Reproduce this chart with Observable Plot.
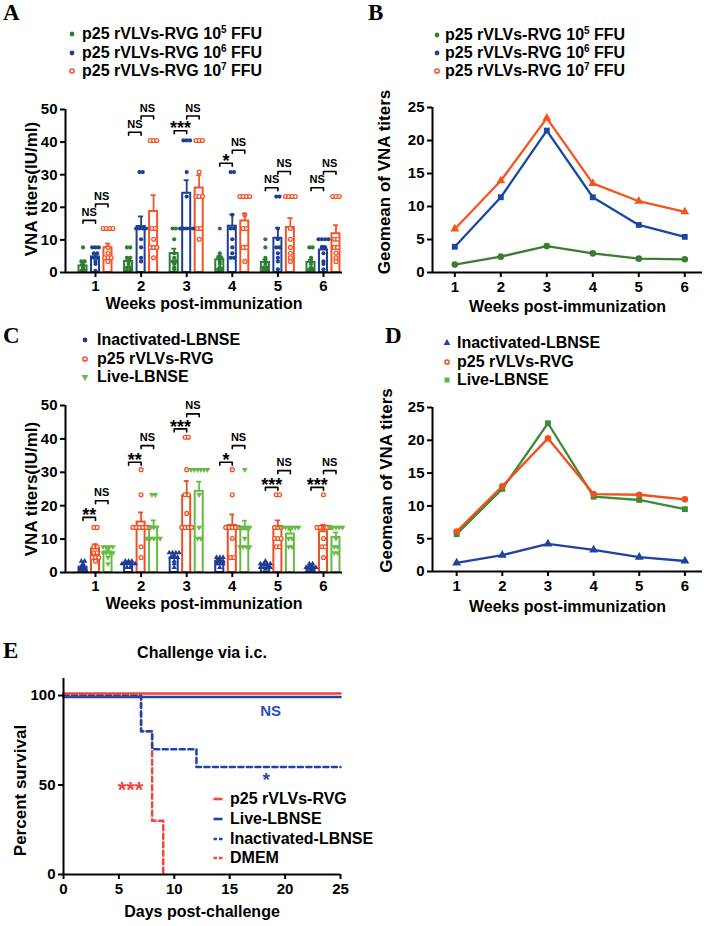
<!DOCTYPE html>
<html>
<head>
<meta charset="utf-8">
<title>VNA titers and survival</title>
<script src="https://cdn.jsdelivr.net/npm/d3@7"></script>
<script src="https://cdn.jsdelivr.net/npm/@observablehq/plot@0.6"></script>
<style>
html,body{margin:0;padding:0;background:#fff;}
#fig{position:relative;width:714px;height:926px;overflow:hidden;background:#fff;font-family:"Liberation Sans",Arial,Helvetica,sans-serif;font-weight:bold;color:#000;}
.letter{position:absolute;font-family:"Liberation Serif","Times New Roman",serif;font-weight:bold;font-size:23px;line-height:23px;}
.leg{position:absolute;font-size:16px;line-height:18px;height:18px;white-space:nowrap;}
.leg sup{font-size:10px;line-height:0;vertical-align:6px;}
.ttl{position:absolute;font-size:16px;line-height:18px;text-align:center;white-space:nowrap;}
</style>
</head>
<body>
<div id="fig"></div>
<script>
// ================= DATA =================
const weeks = [1, 2, 3, 4, 5, 6];

// ---- Panel A: VNA titers by dose ----
const seriesA = ["p25 rVLVs-RVG 10^5 FFU", "p25 rVLVs-RVG 10^6 FFU", "p25 rVLVs-RVG 10^7 FFU"];
const colorsA = ["#2f7d32", "#1d3f96", "#f2552a"];
const meanA5 = [2.0, 3.4, 5.8, 3.9, 3.1, 3.1];
const meanA6 = [4.8, 14.1, 24.3, 14.2, 10.5, 6.9];
const meanA7 = [7.6, 18.7, 25.9, 15.8, 13.8, 11.9];
const semA5 = [0.5, 0.9, 1.5, 1.2, 0.9, 0.8];
const semA6 = [0.8, 3.1, 4.0, 3.6, 3.2, 1.2];
const semA7 = [1.3, 5.0, 3.9, 2.3, 2.9, 2.6];
const dotsA5 = [
  [7.7, 3.4, 3.4, 2.3, 1.5, 1.2, 0.9, 0.6, 0.5, 0.5],
  [7.7, 7.7, 4.5, 4.5, 3.4, 2.6, 1.5, 1.5, 0.5, 0.5],
  [13.5, 13.5, 10.2, 5.9, 4.5, 3.4, 3.4, 2.6, 1.5, 1.0],
  [13.5, 5.9, 4.5, 4.5, 3.4, 2.6, 1.5, 1.0, 1.0, 0.5],
  [10.2, 7.7, 4.5, 3.4, 2.6, 1.5, 1.5, 1.0, 0.5, 0.5],
  [7.7, 7.7, 4.5, 3.4, 2.6, 1.5, 1.0, 1.0, 0.5, 0.5]
];
const dotsA6 = [
  [7.7, 7.7, 7.7, 5.9, 5.9, 4.5, 4.5, 3.4, 2.6, 0.5],
  [30.8, 30.8, 13.5, 13.5, 13.5, 13.5, 10.2, 7.7, 4.5, 3.4],
  [40.5, 40.5, 40.5, 30.8, 23.3, 13.5, 13.5, 13.5, 13.5, 13.5],
  [30.8, 30.8, 17.7, 13.5, 13.5, 10.2, 7.7, 5.9, 4.5, 4.5],
  [23.3, 23.3, 13.5, 10.2, 7.7, 7.7, 5.9, 4.5, 3.4, 1.0],
  [10.2, 10.2, 10.2, 10.2, 7.7, 7.7, 5.9, 3.4, 2.6, 1.0]
];
const dotsA7 = [
  [13.5, 13.5, 13.5, 13.5, 7.7, 5.9, 4.5, 4.5, 4.5, 3.4],
  [40.5, 40.5, 40.5, 13.5, 13.5, 10.2, 7.7, 7.7, 7.7, 4.5],
  [40.5, 40.5, 40.5, 30.8, 23.3, 23.3, 23.3, 13.5, 13.5, 10.2],
  [23.3, 23.3, 23.3, 23.3, 17.7, 13.5, 13.5, 7.7, 7.7, 3.4],
  [23.3, 23.3, 23.3, 23.3, 13.5, 10.2, 7.7, 5.9, 4.5, 3.4],
  [23.3, 23.3, 23.3, 10.2, 10.2, 7.7, 7.7, 5.9, 4.5, 3.4]
];
const sigA01 = ["NS", "NS", "***", "*", "NS", "NS"];
const sigA01y = [16, 43, 43.5, 33.5, 26, 26];
const sigA12 = ["NS", "NS", "NS", "NS", "NS", "NS"];
const sigA12y = [21, 48, 48, 37.5, 31, 31];

// ---- Panel B: geomean by dose ----
const seriesB = ["p25 rVLVs-RVG 10^5 FFU", "p25 rVLVs-RVG 10^6 FFU", "p25 rVLVs-RVG 10^7 FFU"];
const colorsB = ["#3a7d2e", "#1a47a0", "#f5541f"];
const gmB5 = [1.2, 2.4, 4.0, 2.9, 2.1, 2.0];
const gmB6 = [3.9, 11.4, 21.5, 11.4, 7.2, 5.4];
const gmB7 = [6.6, 13.9, 23.4, 13.5, 10.8, 9.2];

// ---- Panel C: VNA titers by vaccine ----
const seriesC = ["Inactivated-LBNSE", "p25 rVLVs-RVG", "Live-LBNSE"];
const colorsC = ["#1e3c96", "#f04f23", "#66bb44"];
const meanCI = [1.6, 2.6, 4.4, 3.3, 2.1, 1.6];
const meanCP = [7.1, 15.1, 23.0, 14.1, 13.4, 12.2];
const meanCL = [6.2, 13.6, 24.3, 12.8, 11.5, 10.5];
const semCI = [0.4, 0.3, 0.8, 0.5, 0.4, 0.3];
const semCP = [1.4, 2.9, 4.4, 3.3, 2.2, 2.1];
const semCL = [0.9, 2.0, 2.9, 2.7, 1.4, 1.5];
const dotsCI = [
  [3.4, 3.4, 2.6, 1.5, 1.5, 1.0, 1.0, 0.5, 0.5, 0.5],
  [3.4, 3.4, 3.4, 2.6, 2.6, 2.6, 2.6, 2.6, 1.5, 1.5],
  [5.9, 5.9, 5.9, 5.9, 4.5, 4.5, 4.5, 3.4, 2.6, 1.5],
  [4.5, 4.5, 4.5, 3.4, 3.4, 3.4, 2.6, 2.6, 2.6, 1.5],
  [3.4, 2.6, 2.6, 2.6, 2.6, 1.5, 1.5, 1.5, 1.5, 1.0],
  [2.6, 2.6, 2.0, 1.5, 1.5, 1.5, 1.5, 1.0, 1.0, 0.5]
];
const dotsCP = [
  [13.5, 13.5, 7.7, 7.7, 5.9, 5.9, 4.5, 4.5, 4.5, 3.4],
  [30.8, 23.3, 13.5, 13.5, 13.5, 13.5, 13.5, 13.5, 7.7, 4.5],
  [40.5, 40.5, 30.8, 23.3, 23.3, 17.7, 13.5, 13.5, 13.5, 13.5],
  [30.8, 23.3, 13.5, 13.5, 13.5, 13.5, 13.5, 10.2, 4.5, 4.5],
  [23.3, 23.3, 13.5, 13.5, 13.5, 10.2, 10.2, 10.2, 7.7, 7.7],
  [23.3, 13.5, 13.5, 13.5, 13.5, 13.5, 10.2, 7.7, 7.7, 4.5]
];
const dotsCL = [
  [7.7, 7.7, 7.7, 7.7, 5.9, 5.9, 5.9, 5.9, 4.5, 2.6],
  [23.3, 23.3, 13.5, 13.5, 13.5, 10.2, 10.2, 10.2, 10.2, 10.2],
  [30.8, 30.8, 30.8, 30.8, 30.8, 30.8, 23.3, 13.5, 10.2, 10.2],
  [30.8, 13.5, 13.5, 13.5, 13.5, 10.2, 7.7, 7.7, 7.7, 7.7],
  [13.5, 13.5, 13.5, 13.5, 13.5, 13.5, 10.2, 10.2, 7.7, 7.7],
  [13.5, 13.5, 13.5, 13.5, 13.5, 10.2, 7.7, 7.7, 5.9, 5.9]
];
const sigC01 = ["**", "**", "***", "*", "***", "***"];
const sigC01y = [16.5, 33, 43, 33, 25.5, 25.5];
const sigC12 = ["NS", "NS", "NS", "NS", "NS", "NS"];
const sigC12y = [21.5, 38, 47.5, 38, 30.5, 30.5];

// ---- Panel D: geomean by vaccine ----
const seriesD = ["Inactivated-LBNSE", "p25 rVLVs-RVG", "Live-LBNSE"];
const colorsD = ["#1f44a0", "#f0501e", "#3d8b35"];
const legendColorsD = ["#1f44a0", "#f0501e", "#5cb84a"];
const gmDI = [1.3, 2.5, 4.2, 3.3, 2.2, 1.6];
const gmDP = [6.1, 13.0, 20.3, 11.8, 11.7, 11.0];
const gmDL = [5.7, 12.6, 22.6, 11.4, 10.9, 9.5];

// ---- Panel E: survival after i.c. challenge ----
const seriesE = ["p25 rVLVs-RVG", "Live-LBNSE", "Inactivated-LBNSE", "DMEM"];
const colorsE = ["#f0463c", "#1c47a6", "#1c47a6", "#f0463c"];
const daysP25 = [0, 25], survP25 = [100, 100];
const daysLive = [0, 25], survLive = [100, 100];
const daysInact = [0, 7, 8, 12, 25], survInact = [100, 80, 70, 60, 60];
const daysDMEM = [0, 7, 8, 9], survDMEM = [100, 80, 30, 0];
const annotE = [
  {day: 18.7, pct: 91, label: "NS", color: "#2a4fb0", size: 15},
  {day: 18.3, pct: 53, label: "*", color: "#2a4fb0", size: 19},
  {day: 6.05, pct: 47.5, label: "***", color: "#f0463c", size: 22}
];

// ================= HELPERS =================
const fig = document.getElementById("fig");
const FONT = '"Liberation Sans", Arial, Helvetica, sans-serif';
const baseStyle = {fontFamily: FONT, fontWeight: "bold", fontSize: "15px", color: "black", background: "transparent", overflow: "visible"};

const triDown = {
  draw(ctx, size) {
    const y = -Math.sqrt(size / (Math.sqrt(3) * 3));
    ctx.moveTo(0, -2 * y);
    ctx.lineTo(Math.sqrt(3) * y, y);
    ctx.lineTo(-Math.sqrt(3) * y, y);
    ctx.closePath();
  }
};

function mount(node, left, top, width) {
  const d = document.createElement("div");
  d.style.cssText = `position:absolute;left:${left}px;top:${top}px;width:${width}px;`;
  node.style.maxWidth = "none";
  d.appendChild(node);
  fig.appendChild(d);
}

function letter(ch, left, top) {
  const d = document.createElement("div");
  d.className = "letter";
  d.style.left = left + "px";
  d.style.top = top + "px";
  d.textContent = ch;
  fig.appendChild(d);
}

function markerSvg(kind, color) {
  const s = d3.create("svg").attr("width", 16).attr("height", 16).attr("viewBox", "-8 -8 16 16");
  if (kind === "dot") s.append("circle").attr("r", 2.4).attr("fill", color);
  else if (kind === "ring") s.append("circle").attr("r", 2.1).attr("fill", "#fff").attr("stroke", color).attr("stroke-width", 1.5);
  else if (kind === "tri") s.append("path").attr("d", d3.symbol(d3.symbolTriangle, 20)()).attr("fill", color);
  else if (kind === "tridown") s.append("path").attr("d", d3.symbol(triDown, 20)()).attr("fill", color);
  else if (kind === "sq") s.append("rect").attr("x", -2.5).attr("y", -2.5).attr("width", 5).attr("height", 5).attr("fill", color);
  else if (kind === "line") s.append("line").attr("x1", -4.5).attr("x2", 4.5).attr("stroke", color).attr("stroke-width", 2.6);
  else if (kind === "dash") s.append("line").attr("x1", -4.5).attr("x2", 4.5).attr("stroke", color).attr("stroke-width", 2.6).attr("stroke-dasharray", "3.5,2");
  return s.node();
}

function legend(labels, colors, kinds, mx, tx, ys) {
  labels.forEach((lab, i) => {
    const m = markerSvg(kinds[i], colors[i]);
    m.style.cssText = `position:absolute;left:${mx - 8}px;top:${ys[i] - 8}px;`;
    fig.appendChild(m);
    const t = document.createElement("div");
    t.className = "leg";
    t.style.left = tx + "px";
    t.style.top = (ys[i] - 8.8) + "px";
    t.innerHTML = lab.replace(/\^(\d+)/, "<sup>$1</sup>");
    fig.appendChild(t);
  });
}

function titleText(text, cx, cy, w) {
  const d = document.createElement("div");
  d.className = "ttl";
  d.style.left = (cx - w / 2) + "px";
  d.style.width = w + "px";
  d.style.top = (cy - 8.8) + "px";
  d.textContent = text;
  fig.appendChild(d);
}

// axis titles, centred on the frame side
function yTitle(text, dx, dy) {
  return Plot.text([text], {text: d => d, frameAnchor: "left", textAnchor: "middle", lineAnchor: "middle", rotate: -90, dx, dy, fontSize: 17});
}
function xTitle(text, dy) {
  return Plot.text([text], {text: d => d, frameAnchor: "bottom", textAnchor: "middle", lineAnchor: "middle", dy, fontSize: 16});
}

// ---------- bar + scatter panel ----------
function barPanel(o) {
  const off = [-0.274, 0, 0.274];
  const hw = 0.088, cap = 0.055, step = 0.072;
  const bars = [], pts = [], brk = [], lab = [];
  o.series.forEach((s, gi) => {
    weeks.forEach((w, wi) => {
      const cx = w + off[gi];
      bars.push({s, cx, mean: o.means[gi][wi], sem: o.sems[gi][wi]});
      const vals = o.dots[gi][wi];
      const count = d3.rollup(vals, v => v.length, v => v);
      const seen = new Map();
      vals.forEach(v => {
        const k = count.get(v), i = seen.get(v) || 0;
        seen.set(v, i + 1);
        pts.push({s, gi, v, x: cx + (i - (k - 1) / 2) * step});
      });
    });
  });
  [[0, o.sig01, o.sig01y], [1, o.sig12, o.sig12y]].forEach(([g, labels, levels]) => {
    weeks.forEach((w, wi) => {
      const xa = w + off[g], xb = w + off[g + 1], yv = levels[wi], id = g + "-" + w, h = 0.9;
      brk.push({id, x: xa, y: yv - h}, {id, x: xa, y: yv}, {id, x: xb, y: yv}, {id, x: xb, y: yv - h});
      lab.push({x: (xa + xb) / 2, y: yv, t: labels[wi]});
    });
  });
  const svg = Plot.plot({
    width: o.width, height: o.height,
    marginLeft: o.mL, marginRight: o.mR, marginTop: o.mT, marginBottom: o.mB,
    style: baseStyle,
    x: {domain: o.xDomain, axis: null},
    y: {domain: [0, 50], axis: null},
    color: {type: "ordinal", domain: o.series, range: o.colors},
    marks: [
      Plot.rect(bars, {x1: d => d.cx - hw, x2: d => d.cx + hw, y1: 0, y2: "mean", fill: "white", stroke: "s", strokeWidth: 2}),
      ...o.series.map((s, gi) => Plot.dot(pts.filter(d => d.gi === gi), {x: "x", y: "v", ...o.dotStyle[gi]})),
      Plot.ruleX(bars, {x: "cx", y1: "mean", y2: d => d.mean + d.sem, stroke: "s", strokeWidth: 1.8}),
      Plot.ruleY(bars, {y: d => d.mean + d.sem, x1: d => d.cx - cap, x2: d => d.cx + cap, stroke: "s", strokeWidth: 1.8}),
      Plot.line(brk, {x: "x", y: "y", z: "id", stroke: "black", strokeWidth: 1.6}),
      Plot.text(lab.filter(d => d.t === "NS"), {x: "x", y: "y", text: "t", fontSize: 11, dy: -8}),
      Plot.text(lab.filter(d => d.t !== "NS"), {x: "x", y: "y", text: "t", fontSize: 18, dy: -2}),
      Plot.ruleY([0], {strokeWidth: 2}),
      Plot.ruleX([o.xDomain[0]], {strokeWidth: 2}),
      Plot.axisY({ticks: [0, 10, 20, 30, 40, 50], tickSize: 5, tickPadding: 3, strokeWidth: 2, fontSize: 15, label: null}),
      Plot.axisX({ticks: weeks, tickSize: 5, tickPadding: 3, strokeWidth: 2, fontSize: 15, label: null, tickFormat: d => String(d)}),
      yTitle(o.yTitle, o.yDx, o.yDy),
      xTitle(o.xTitle, o.xDy)
    ]
  });
  mount(svg, o.left, o.top, o.width);
}

// ---------- geomean line panel ----------
function linePanel(o) {
  const rows = [];
  o.drawOrder.forEach(gi => weeks.forEach((w, wi) => rows.push({s: o.series[gi], w, v: o.values[gi][wi]})));
  const svg = Plot.plot({
    width: o.width, height: o.height,
    marginLeft: o.mL, marginRight: o.mR, marginTop: o.mT, marginBottom: o.mB,
    style: baseStyle,
    x: {domain: o.xDomain, axis: null},
    y: {domain: [0, 25], axis: null},
    color: {type: "ordinal", domain: o.series, range: o.colors},
    symbol: {domain: o.series, range: o.symbols},
    marks: [
      Plot.ruleY([0], {strokeWidth: 2}),
      Plot.ruleX([o.xDomain[0]], {strokeWidth: 2}),
      Plot.axisY({ticks: [0, 5, 10, 15, 20, 25], tickSize: 5, tickPadding: 3, strokeWidth: 2, fontSize: 15, label: null}),
      Plot.axisX({ticks: weeks, tickSize: 5, tickPadding: 4, strokeWidth: 2, fontSize: 15, label: null, tickFormat: d => String(d)}),
      Plot.line(rows, {x: "w", y: "v", z: "s", stroke: "s", strokeWidth: 2.3}),
      Plot.dot(rows, {x: "w", y: "v", fill: "s", symbol: "s", r: 3.3}),
      yTitle(o.yTitle, o.yDx, o.yDy),
      xTitle(o.xTitle, o.xDy)
    ]
  });
  mount(svg, o.left, o.top, o.width);
}

// ================= PANELS =================
// A
letter("A", 3, 1);
legend(seriesA, colorsA, ["dot", "dot", "ring"], 72, 82, [34, 53, 71]);
barPanel({
  left: 0, top: 0, width: 360, height: 320, mL: 65, mR: 18, mT: 109, mB: 48,
  xDomain: [0.342, 6.417],
  series: seriesA, colors: colorsA,
  means: [meanA5, meanA6, meanA7], sems: [semA5, semA6, semA7], dots: [dotsA5, dotsA6, dotsA7],
  dotStyle: [
    {r: 2.1, fill: colorsA[0]},
    {r: 2.1, fill: colorsA[1]},
    {r: 1.9, fill: "white", stroke: colorsA[2], strokeWidth: 1.3}
  ],
  sig01: sigA01, sig01y: sigA01y, sig12: sigA12, sig12y: sigA12y,
  yTitle: "VNA titers(IU/ml)", yDx: -34, yDy: -2,
  xTitle: "Weeks post-immunization", xDy: 31
});

// B
letter("B", 368, 1);
legend(seriesB, colorsB, ["dot", "dot", "ring"], 437, 445, [35, 53, 71]);
linePanel({
  left: 360, top: 0, width: 354, height: 320, mL: 72, mR: 12, mT: 107, mB: 48,
  xDomain: [0.515, 6.385],
  series: seriesB, colors: colorsB, values: [gmB5, gmB6, gmB7],
  symbols: ["circle", "square", "triangle"], drawOrder: [0, 1, 2],
  yTitle: "Geomean of VNA titers", yDx: -48, yDy: -8,
  xTitle: "Weeks post-immunization", xDy: 34
});

// C
letter("C", 3, 324);
legend(seriesC, colorsC, ["dot", "ring", "tridown"], 85, 97, [340, 359, 377]);
barPanel({
  left: 0, top: 300, width: 360, height: 320, mL: 65, mR: 18, mT: 105, mB: 48,
  xDomain: [0.342, 6.417],
  series: seriesC, colors: colorsC,
  means: [meanCI, meanCP, meanCL], sems: [semCI, semCP, semCL], dots: [dotsCI, dotsCP, dotsCL],
  dotStyle: [
    {r: 2.0, symbol: "triangle", fill: colorsC[0]},
    {r: 1.9, fill: "white", stroke: colorsC[1], strokeWidth: 1.3},
    {r: 2.1, symbol: triDown, fill: colorsC[2]}
  ],
  sig01: sigC01, sig01y: sigC01y, sig12: sigC12, sig12y: sigC12y,
  yTitle: "VNA titers(IU/ml)", yDx: -34, yDy: 0,
  xTitle: "Weeks post-immunization", xDy: 31
});

// D
letter("D", 385, 324);
legend(seriesD, legendColorsD, ["tri", "ring", "sq"], 447, 457, [343, 362, 380]);
linePanel({
  left: 360, top: 300, width: 354, height: 320, mL: 72, mR: 12, mT: 107, mB: 49,
  xDomain: [0.471, 6.385],
  series: seriesD, colors: colorsD, values: [gmDI, gmDP, gmDL],
  symbols: ["triangle", "circle", "square"], drawOrder: [0, 2, 1],
  yTitle: "Geomean of VNA titers", yDx: -46, yDy: -9,
  xTitle: "Weeks post-immunization", xDy: 35
});

// E
letter("E", 3, 639);
titleText("Challenge via i.c.", 202, 653, 220);
legend(seriesE, colorsE, ["line", "line", "dash", "dash"], 217.5, 230, [799, 819, 839, 858]);
(function () {
  const mk = (name, days, surv) => days.map((d, i) => ({s: name, d, p: surv[i]}));
  const p25 = mk(seriesE[0], daysP25, survP25);
  const live = mk(seriesE[1], daysLive, survLive);
  const inact = mk(seriesE[2], daysInact, survInact);
  const dmem = mk(seriesE[3], daysDMEM, survDMEM);
  const svg = Plot.plot({
    width: 360, height: 326, marginLeft: 63, marginRight: 20, marginTop: 78, marginBottom: 52,
    style: baseStyle,
    x: {domain: [0, 25], axis: null},
    y: {domain: [0, 109.5], axis: null},
    marks: [
      Plot.line(live, {x: "d", y: "p", stroke: colorsE[1], strokeWidth: 2.5, curve: "step-after", dy: 1.5}),
      Plot.line(dmem, {x: "d", y: "p", stroke: colorsE[3], strokeWidth: 2.5, curve: "step-after", strokeDasharray: "5,3.5"}),
      Plot.line(inact, {x: "d", y: "p", stroke: colorsE[2], strokeWidth: 2.5, curve: "step-after", strokeDasharray: "5,3.5"}),
      Plot.line(p25, {x: "d", y: "p", stroke: colorsE[0], strokeWidth: 2.5, curve: "step-after", dy: -2}),
      Plot.ruleY([0], {strokeWidth: 2}),
      Plot.ruleX([0], {strokeWidth: 2}),
      Plot.axisY({ticks: [0, 50, 100], tickSize: 5, tickPadding: 3, strokeWidth: 2, fontSize: 15, label: null}),
      Plot.axisX({ticks: [0, 5, 10, 15, 20, 25], tickSize: 5, tickPadding: 4, strokeWidth: 2, fontSize: 15, label: null}),
      ...annotE.map(a => Plot.text([a], {x: "day", y: "pct", text: "label", fill: a.color, fontSize: a.size})),
      yTitle("Percent survival", -43, 14),
      xTitle("Days post-challenge", 37)
    ]
  });
  mount(svg, 0, 600, 360);
})();
</script>
</body>
</html>
